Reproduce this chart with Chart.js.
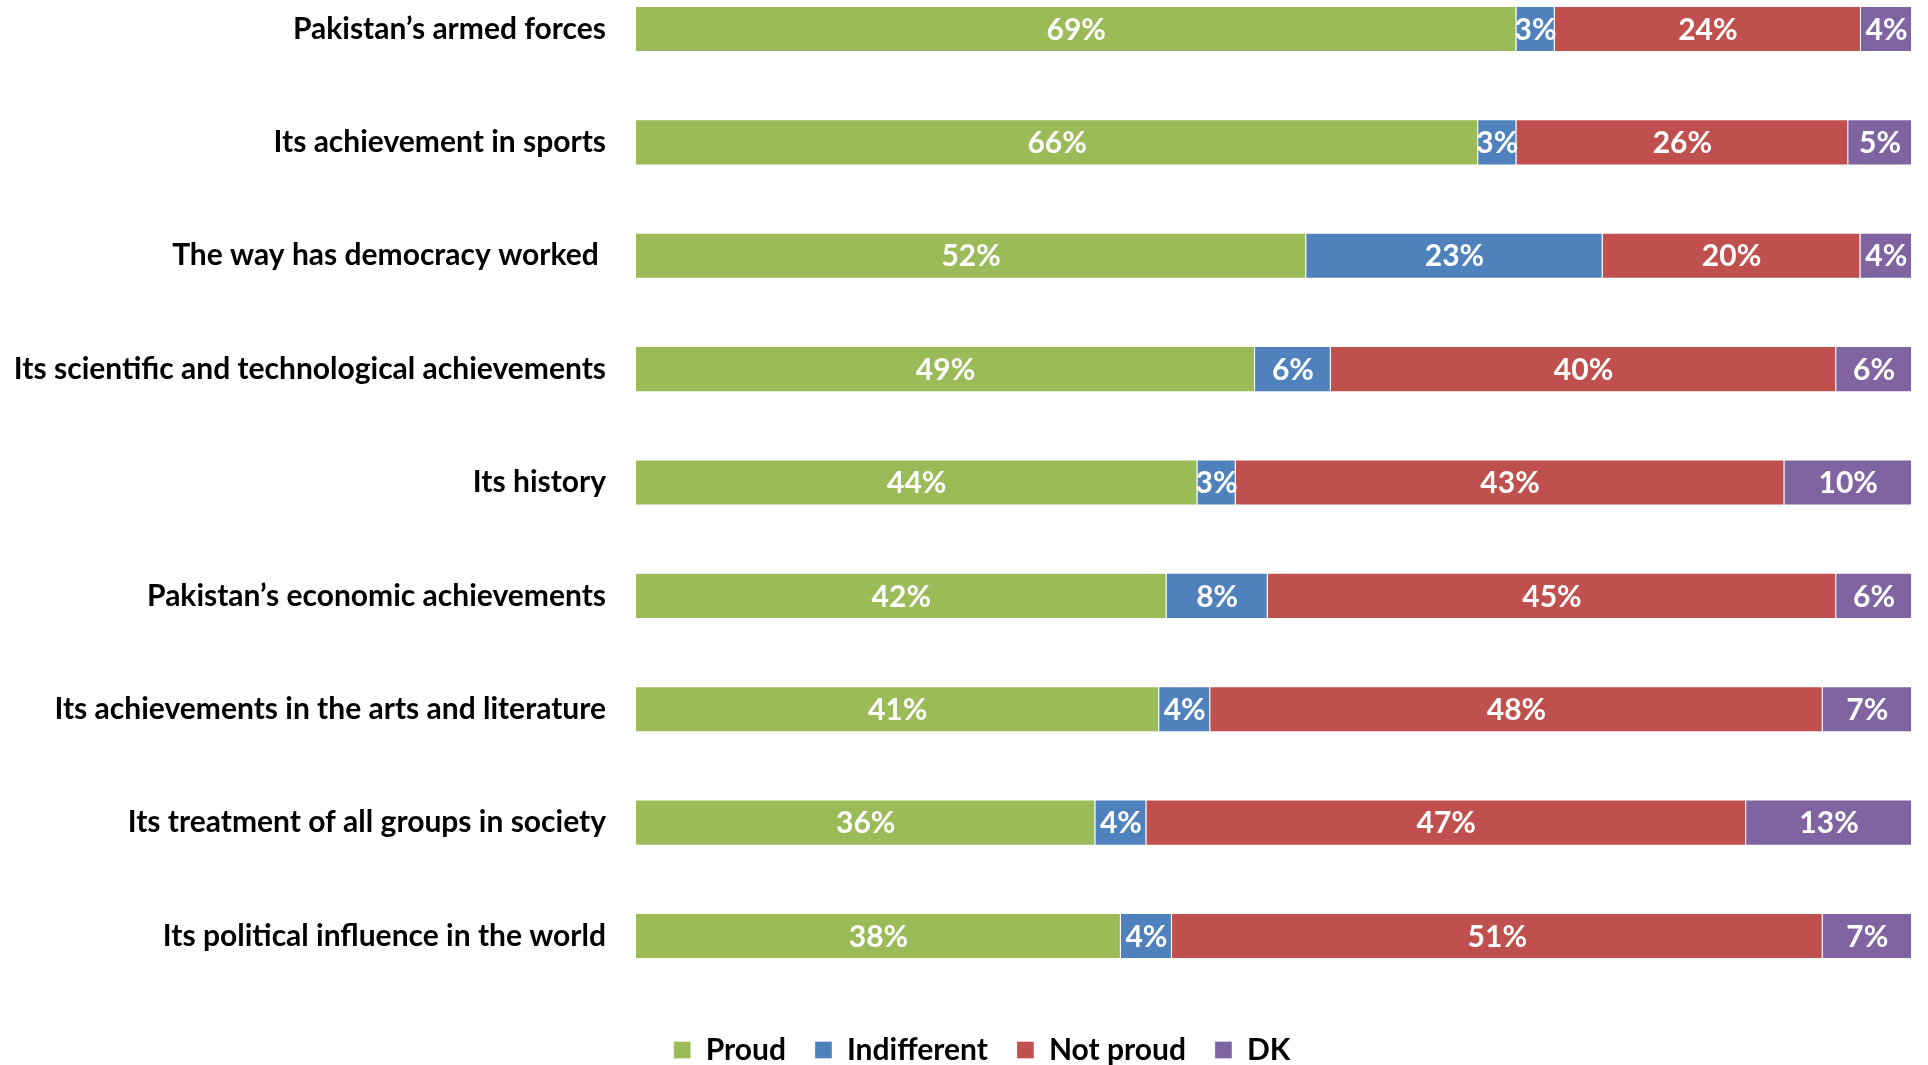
<!DOCTYPE html>
<html>
<head>
<meta charset="utf-8">
<script src="https://cdn.jsdelivr.net/npm/chart.js@4"></script>
<style>
  html, body { margin: 0; padding: 0; background: #ffffff; }
  #wrap { width: 1928px; height: 1065px; position: relative; }
</style>
</head>
<body>
<div id="wrap"><canvas id="c" width="1928" height="1065"></canvas></div>
<script>
const categories = [
  "Pakistan\u2019s armed forces",
  "Its achievement in sports",
  "The way has democracy worked ",
  "Its scientific and technological achievements",
  "Its history",
  "Pakistan\u2019s economic achievements",
  "Its achievements in the arts and literature",
  "Its treatment of all groups in society",
  "Its political influence in the world"
];
const seriesNames = ["Proud", "Indifferent", "Not proud", "DK"];
const proud       = [69, 66, 52, 49, 44, 42, 41, 36, 38];
const indifferent = [3, 3, 23, 6, 3, 8, 4, 4, 4];
const notProud    = [24, 26, 20, 40, 43, 45, 48, 47, 51];
const dk          = [4, 5, 4, 6, 10, 6, 7, 13, 7];
const colors = ["#9BBB59", "#4F81BD", "#C0504D", "#8064A2"];

const raw = [proud, indifferent, notProud, dk];
const totals = categories.map((_, i) => raw.reduce((s, arr) => s + arr[i], 0));
// 100% stacked: each row scaled to its total
const datasets = raw.map((arr, k) => ({
  label: seriesNames[k],
  data: arr.map((v, i) => v / totals[i] * 100),
  rawValues: arr,
  backgroundColor: colors[k],
  borderColor: "rgba(255,255,255,0.3)",
  borderWidth: 1,
  clip: false
}));

const FONT = "Lato";
const FS = 30;

const valueLabels = {
  id: "valueLabels",
  afterDatasetsDraw(chart) {
    const ctx = chart.ctx;
    ctx.save();
    ctx.font = "bold " + FS + "px " + FONT;
    ctx.fillStyle = "#ffffff";
    ctx.textAlign = "center";
    ctx.textBaseline = "middle";
    chart.data.datasets.forEach((ds, di) => {
      const meta = chart.getDatasetMeta(di);
      meta.data.forEach((el, i) => {
        const p = el.getProps(["x", "y", "base"], true);
        const cx = (p.x + p.base) / 2;
        ctx.fillText(ds.rawValues[i] + "%", cx, p.y + 1);
      });
    });
    ctx.restore();
  }
};

// nudge the bottom legend so it is centred like the original
const legendShift = {
  id: "legendShift",
  afterLayout(chart) {
    if (chart.legend) { chart.legend.left += 52; }
  }
};

new Chart(document.getElementById("c"), {
  type: "bar",
  data: { labels: categories, datasets: datasets },
  options: {
    indexAxis: "y",
    responsive: false,
    animation: false,
    layout: { padding: { top: 29, right: 16, left: 0, bottom: -10 } },
    scales: {
      x: {
        stacked: true,
        min: 0,
        max: 100,
        display: true,
        grid: { display: false },
        border: { display: false },
        ticks: { display: false },
        afterFit(scale) { scale.height = 70; }
      },
      y: {
        stacked: true,
        offset: false,
        grid: { display: false },
        border: { display: false },
        ticks: {
          padding: 22,
          color: "#000000",
          font: { family: FONT, size: FS, weight: "bold" }
        },
        afterFit(scale) {
          scale.width = 636;
          scale.paddingTop = 0;
          scale.paddingBottom = 0;
        }
      }
    },
    datasets: { bar: { categoryPercentage: 1, barPercentage: 0.406 } },
    plugins: {
      legend: {
        position: "bottom",
        labels: {
          boxWidth: 17,
          boxHeight: 17,
          padding: 29,
          color: "#000000",
          font: { family: FONT, size: FS, weight: "bold" }
        }
      },
      tooltip: { enabled: false }
    }
  },
  plugins: [valueLabels, legendShift]
});
</script>
</body>
</html>
